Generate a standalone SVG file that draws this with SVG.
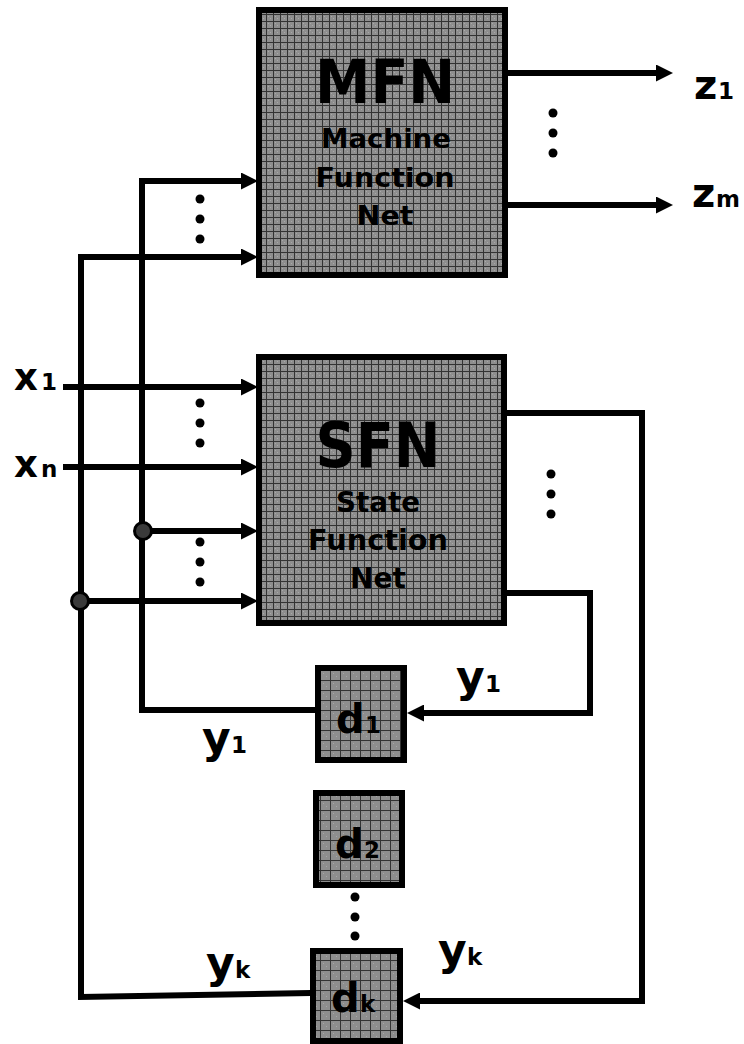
<svg xmlns="http://www.w3.org/2000/svg" width="744" height="1044" viewBox="0 0 744 1044">
<style>
.wire{fill:none;stroke:#000;stroke-width:6;stroke-linejoin:miter;stroke-linecap:butt}
.arr{marker-end:url(#ah)}
.box{stroke:#000;stroke-width:6}
.big{fill:url(#gridA)}
.small{fill:url(#gridB)}
.t{font-family:"DejaVu Sans","Liberation Sans",sans-serif;font-weight:bold;fill:#000}
.sub{font-size:23px}
.dot{fill:#000}
.node{fill:#3a3a3a;stroke:#000;stroke-width:3}
</style>
<defs>
<pattern id="gridA" patternUnits="userSpaceOnUse" x="0" y="0" width="7" height="7">
<rect width="7" height="7" fill="#8e8e8e"/>
<rect x="2" y="2" width="1" height="1" fill="#a8a8a8"/>
<rect x="4" y="4" width="1" height="1" fill="#a8a8a8"/>
<path d="M0,0.5H7M0.5,0V7" stroke="#333" stroke-width="1"/>
</pattern>
<pattern id="gridB" patternUnits="userSpaceOnUse" x="0" y="0" width="10" height="10">
<rect width="10" height="10" fill="#8e8e8e"/>
<rect x="3" y="3" width="1" height="1" fill="#a8a8a8"/>
<rect x="6" y="6" width="1" height="1" fill="#a8a8a8"/>
<path d="M0,0.5H10M0.5,0V10" stroke="#333" stroke-width="1"/>
</pattern>
<marker id="ah" markerUnits="userSpaceOnUse" markerWidth="17" markerHeight="17" viewBox="0 0 17 17" refX="7" refY="8.5" orient="auto">
<path d="M0,0L17,8.5L0,17Z" fill="#000"/>
</marker>
</defs>

<g id="connectors">
<path class="wire arr" d="M315,710H142V181H248"/>
<path class="wire arr" d="M311,993L81,997V257H248"/>
<path class="wire arr" d="M143,531H248"/>
<path class="wire arr" d="M80,601H248"/>
<path class="wire arr" d="M63,387H248"/>
<path class="wire arr" d="M63,467H248"/>
<path class="wire arr" d="M508,73H663"/>
<path class="wire arr" d="M508,205H663"/>
<path class="wire arr" d="M507,413H642V1001H413"/>
<path class="wire arr" d="M507,593H590V713H417"/>
<circle class="node" cx="143" cy="531" r="8.5"/>
<circle class="node" cx="80" cy="601" r="8.5"/>
</g>

<g id="MFN">
<rect class="box big" x="259" y="10" width="246" height="265"/>
<text class="t" x="385" y="103" font-size="60" text-anchor="middle" textLength="140" lengthAdjust="spacingAndGlyphs">MFN</text>
<text class="t" x="386" y="148" font-size="26" text-anchor="middle" textLength="130" lengthAdjust="spacingAndGlyphs">Machine</text>
<text class="t" x="385" y="187" font-size="27" text-anchor="middle" textLength="139" lengthAdjust="spacingAndGlyphs">Function</text>
<text class="t" x="385" y="225" font-size="27" text-anchor="middle" textLength="57" lengthAdjust="spacingAndGlyphs">Net</text>
</g>

<g id="SFN">
<rect class="box big" x="259" y="357" width="245" height="266"/>
<text class="t" x="378" y="467" font-size="63" text-anchor="middle" textLength="125" lengthAdjust="spacingAndGlyphs">SFN</text>
<text class="t" x="378" y="512" font-size="29" text-anchor="middle" textLength="84" lengthAdjust="spacingAndGlyphs">State</text>
<text class="t" x="378" y="550" font-size="29" text-anchor="middle" textLength="140" lengthAdjust="spacingAndGlyphs">Function</text>
<text class="t" x="378" y="588" font-size="29" text-anchor="middle" textLength="56" lengthAdjust="spacingAndGlyphs">Net</text>
</g>

<g id="d1">
<rect class="box small" x="318" y="668" width="86" height="92"/>
<text class="t" font-size="40"><tspan x="336" y="733">d</tspan><tspan class="sub" x="365" y="733">1</tspan></text>
</g>

<g id="d2">
<rect class="box small" x="316" y="793" width="86" height="92"/>
<text class="t" font-size="40"><tspan x="335" y="858">d</tspan><tspan class="sub" x="364" y="858">2</tspan></text>
</g>

<g id="dk">
<rect class="box small" x="313" y="951" width="87" height="90"/>
<text class="t" font-size="40"><tspan x="331" y="1012">d</tspan><tspan class="sub" x="360" y="1012">k</tspan></text>
</g>

<g id="labels">
<text class="t" font-size="37"><tspan x="14" y="390">x</tspan><tspan class="sub" x="41" y="390">1</tspan></text>
<text class="t" font-size="37"><tspan x="14" y="477">x</tspan><tspan class="sub" x="41" y="477" font-size="24">n</tspan></text>
<text class="t" font-size="40"><tspan x="694" y="99">z</tspan><tspan class="sub" x="718" y="99">1</tspan></text>
<text class="t" font-size="40"><tspan x="692" y="207">z</tspan><tspan class="sub" x="716" y="207" font-size="24">m</tspan></text>
<text class="t" font-size="44"><tspan x="456" y="692">y</tspan><tspan class="sub" x="485" y="692" font-size="24">1</tspan></text>
<text class="t" font-size="44"><tspan x="202" y="753">y</tspan><tspan class="sub" x="231" y="753" font-size="24">1</tspan></text>
<text class="t" font-size="44"><tspan x="206" y="978">y</tspan><tspan class="sub" x="235" y="978" font-size="24">k</tspan></text>
<text class="t" font-size="44"><tspan x="438" y="965">y</tspan><tspan class="sub" x="467" y="965" font-size="24">k</tspan></text>
</g>

<g id="ellipses">
<circle class="dot" cx="200" cy="199" r="4.5"/><circle class="dot" cx="200" cy="219" r="4.5"/><circle class="dot" cx="200" cy="239" r="4.5"/>
<circle class="dot" cx="553" cy="113" r="4.5"/><circle class="dot" cx="553" cy="133" r="4.5"/><circle class="dot" cx="553" cy="153" r="4.5"/>
<circle class="dot" cx="200" cy="403" r="4.5"/><circle class="dot" cx="200" cy="423" r="4.5"/><circle class="dot" cx="200" cy="443" r="4.5"/>
<circle class="dot" cx="200" cy="542" r="4.5"/><circle class="dot" cx="200" cy="562" r="4.5"/><circle class="dot" cx="200" cy="582" r="4.5"/>
<circle class="dot" cx="551" cy="474" r="4.5"/><circle class="dot" cx="551" cy="494" r="4.5"/><circle class="dot" cx="551" cy="514" r="4.5"/>
<circle class="dot" cx="355" cy="897" r="4.5"/><circle class="dot" cx="355" cy="917" r="4.5"/><circle class="dot" cx="355" cy="936" r="4.5"/>
</g>
</svg>
